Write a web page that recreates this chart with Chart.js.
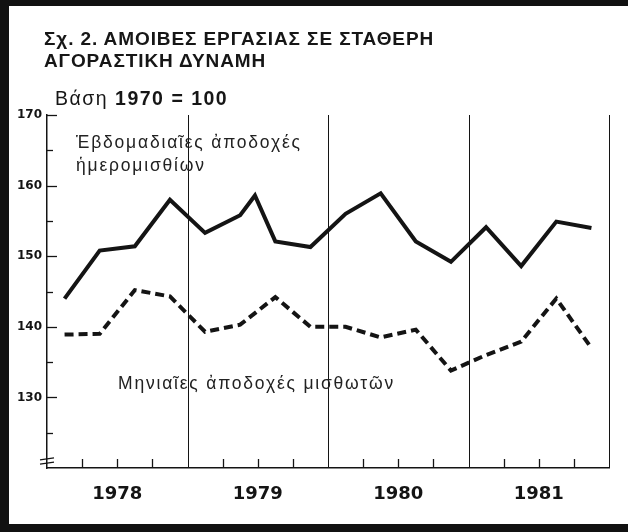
<!DOCTYPE html>
<html>
<head>
<meta charset="utf-8">
<script src="https://cdn.jsdelivr.net/npm/chart.js@4.4.0/dist/chart.umd.min.js"></script>
<style>
  html, body { margin: 0; padding: 0; background: #fff; }
  #wrap { position: relative; width: 628px; height: 532px; overflow: hidden; }
  #chart { position: absolute; left: 0; top: 0; }
  .frame { position: absolute; left: 0; top: 0; width: 628px; height: 532px; box-sizing: border-box;
    border-left: 9px solid #111; border-top: 6px solid #111; border-bottom: 8px solid #111; pointer-events: none; }
  .txt { position: absolute; color: #161616; white-space: nowrap; font-family: "Liberation Sans", Arial, sans-serif; }
  .title { left: 44px; top: 28px; font-size: 19px; font-weight: bold; line-height: 22px; letter-spacing: 0.9px; }
  .base { left: 55px; top: 87px; font-size: 19.5px; line-height: 22px; letter-spacing: 1.5px; }
  .lab { font-size: 17.5px; line-height: 20px; letter-spacing: 1.8px; color: #222; }
</style>
</head>
<body>
<div id="wrap">
  <canvas id="chart" width="628" height="532"></canvas>
  <div class="txt title">Σχ. 2. ΑΜΟΙΒΕΣ ΕΡΓΑΣΙΑΣ ΣΕ ΣΤΑΘΕΡΗ<br>ΑΓΟΡΑΣΤΙΚΗ ΔΥΝΑΜΗ</div>
  <div class="txt base">Βάση <b>1970 = 100</b></div>
  <div class="txt lab" style="left:76px; top:132px;">Ἑβδομαδιαῖες ἀποδοχές</div>
  <div class="txt lab" style="left:76px; top:155px;">ἡμερομισθίων</div>
  <div class="txt lab" style="left:118px; top:373px;">Μηνιαῖες ἀποδοχές μισθωτῶν</div>
  <div class="frame"></div>
</div>
<script>
// Wage indices, base 1970 = 100, quarterly 1978-1981
const years = ["1978", "1979", "1980", "1981"];
const yTicks = [130, 140, 150, 160, 170];

// x position in years (quarter midpoints; the weekly line has one extra bend in mid 1979)
const weeklyX = [1978.125, 1978.375, 1978.625, 1978.875, 1979.125, 1979.375, 1979.48, 1979.625,
  1979.875, 1980.125, 1980.375, 1980.625, 1980.875, 1981.125, 1981.375, 1981.625, 1981.875];
const weeklyWages = [144.0, 150.8, 151.4, 158.0, 153.3, 155.8, 158.6, 152.1,
  151.3, 156.0, 158.9, 152.1, 149.2, 154.1, 148.6, 154.9, 154.0];

const monthlyX = [1978.125, 1978.375, 1978.625, 1978.875, 1979.125, 1979.375, 1979.625, 1979.875,
  1980.125, 1980.375, 1980.625, 1980.875, 1981.125, 1981.375, 1981.625, 1981.875];
const monthlyWages = [138.9, 139.0, 145.2, 144.3, 139.3, 140.3, 144.2, 140.0,
  140.0, 138.5, 139.6, 133.8, 136.0, 137.9, 144.0, 137.0];

const ink = "#141414";

// tick marks inside the axes, year dividers and the axis break
const axisMarks = {
  id: "axisMarks",
  afterDraw(chart) {
    const { ctx, chartArea, scales } = chart;
    const x = scales.x, y = scales.y;
    ctx.save();
    ctx.strokeStyle = ink;

    // y ticks, long at tens, short at fives
    ctx.lineWidth = 1.3;
    for (let v = 125; v <= 170; v += 5) {
      const py = Math.round(y.getPixelForValue(v)) + 0.5;
      const len = v % 10 === 0 ? 10 : 6;
      ctx.beginPath();
      ctx.moveTo(chartArea.left, py);
      ctx.lineTo(chartArea.left + len, py);
      ctx.stroke();
    }

    // year dividers and quarter ticks
    const first = parseInt(years[0]);
    for (let i = 0; i < years.length; i++) {
      for (let q = 1; q <= 4; q++) {
        const px = Math.round(x.getPixelForValue(first + i + q / 4)) + 0.5;
        ctx.beginPath();
        if (q === 4) {
          ctx.lineWidth = 1;
          ctx.moveTo(px, chartArea.top);
        } else {
          ctx.lineWidth = 1.3;
          ctx.moveTo(px, chartArea.bottom - 9);
        }
        ctx.lineTo(px, chartArea.bottom);
        ctx.stroke();
      }
    }

    // break marks on the y axis
    ctx.lineWidth = 1.3;
    [121.3, 120.7].forEach(v => {
      const py = y.getPixelForValue(v);
      ctx.beginPath();
      ctx.moveTo(chartArea.left - 7, py + 1);
      ctx.lineTo(chartArea.left + 7, py - 1);
      ctx.stroke();
    });
    ctx.restore();
  }
};

new Chart(document.getElementById("chart").getContext("2d"), {
  type: "line",
  data: {
    datasets: [
      {
        label: "Εβδομαδιαίες αποδοχές ημερομισθίων",
        data: weeklyX.map((v, i) => ({ x: v, y: weeklyWages[i] })),
        borderColor: ink,
        borderWidth: 4,
        pointRadius: 0,
        tension: 0,
        borderJoinStyle: "miter",
      },
      {
        label: "Μηνιαίες αποδοχές μισθωτών",
        data: monthlyX.map((v, i) => ({ x: v, y: monthlyWages[i] })),
        borderColor: ink,
        borderWidth: 4,
        borderDash: [9, 5],
        pointRadius: 0,
        tension: 0,
      },
    ],
  },
  options: {
    responsive: false,
    animation: false,
    events: [],
    layout: { padding: { left: 0, right: 19, top: 115, bottom: 0 } },
    plugins: { legend: { display: false }, tooltip: { enabled: false } },
    scales: {
      x: {
        type: "linear",
        min: parseInt(years[0]),
        max: parseInt(years[years.length - 1]) + 1,
        afterBuildTicks: (s) => { s.ticks = years.map(v => ({ value: parseInt(v) + 0.5 })); },
        afterFit: (s) => { s.height = 64; },
        ticks: {
          callback: (v) => String(Math.floor(v)),
          color: ink,
          font: { family: "DejaVu Sans", weight: "bold", size: 18 },
          padding: 16,
          maxRotation: 0,
        },
        grid: { display: false, drawTicks: false },
        border: { display: true, color: ink, width: 1.5 },
      },
      y: {
        min: 120,
        max: 170,
        afterBuildTicks: (s) => { s.ticks = yTicks.map(v => ({ value: v })); },
        afterFit: (s) => { s.width = 47; },
        ticks: {
          color: ink,
          font: { family: "DejaVu Sans", weight: "bold", size: 12 },
          padding: 5,
        },
        grid: { display: false, drawTicks: false },
        border: { display: true, color: ink, width: 1.5 },
      },
    },
  },
  plugins: [axisMarks],
});
</script>
</body>
</html>
